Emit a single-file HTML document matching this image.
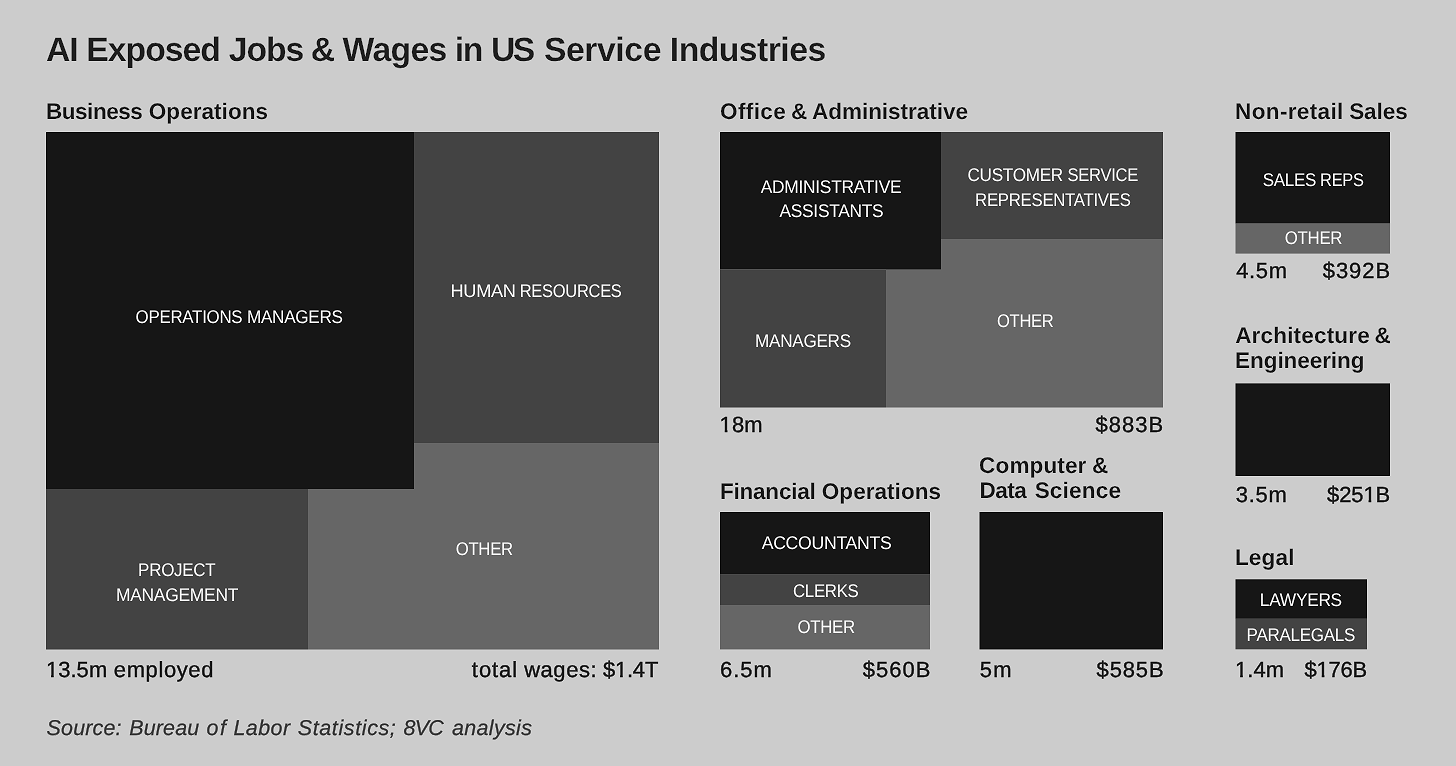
<!DOCTYPE html>
<html lang="en"><head><meta charset="utf-8"><title>AI Exposed Jobs &amp; Wages in US Service Industries</title>
<style>
html,body{margin:0;padding:0}
body{width:1456px;height:766px;background:#cccccc;overflow:hidden}
#c{position:absolute;left:0;top:0;width:1456px;height:766px;background:#cccccc;overflow:hidden;font-family:"Liberation Sans",sans-serif;text-rendering:geometricPrecision;filter:url(#sh)}
.r{position:absolute}
.t{position:absolute;white-space:pre;line-height:1;transform-origin:0 0}
.o{display:inline-block}
.title{font-size:33.745px;font-weight:700;-webkit-text-stroke:0.2px #cccccc;color:#1f1f1f}
.head{font-size:22.545px;font-weight:700;-webkit-text-stroke:0.15px #cccccc;color:#1a1a1a}
.label{font-size:18.327px;color:#f2f2f2}
.num{font-size:21.964px;-webkit-text-stroke:0.4px #1a1a1a;color:#1a1a1a}
.src{font-size:21.455px;font-style:italic;-webkit-text-stroke:0.25px #383838;color:#383838}
</style></head><body>
<svg width="0" height="0" style="position:absolute"><defs><filter id="sh" x="0" y="0" width="100%" height="100%" color-interpolation-filters="sRGB"><feConvolveMatrix order="3" kernelMatrix="0.01690 -0.16380 0.01690 -0.16380 1.58760 -0.16380 0.01690 -0.16380 0.01690" edgeMode="duplicate" preserveAlpha="true"/></filter></defs></svg>
<div id="c">
<svg class="r" width="1456" height="766" viewBox="0 0 1456 766" style="left:0;top:0">
<rect x="308" y="443" width="351.00" height="206.50" fill="#666666"/>
<rect x="886" y="239" width="277.00" height="168.50" fill="#666666"/>
<rect x="720" y="605" width="210.00" height="44.40" fill="#666666"/>
<rect x="1235.5" y="223.5" width="154.50" height="30.10" fill="#666666"/>
<rect x="414" y="132" width="245.00" height="311.00" fill="#434343"/>
<rect x="46" y="489" width="262.00" height="160.50" fill="#434343"/>
<rect x="941" y="132" width="222.00" height="107.00" fill="#434343"/>
<rect x="720" y="269.3" width="166.00" height="138.20" fill="#434343"/>
<rect x="720" y="574.6" width="210.00" height="30.40" fill="#434343"/>
<rect x="1235.5" y="618.8" width="131.50" height="30.50" fill="#434343"/>
<rect x="46" y="132" width="368.00" height="357.00" fill="#161616"/>
<rect x="720" y="132" width="221.00" height="137.30" fill="#161616"/>
<rect x="720" y="512" width="210.00" height="62.60" fill="#161616"/>
<rect x="979.5" y="512" width="183.50" height="137.40" fill="#161616"/>
<rect x="1235.5" y="132" width="154.50" height="91.50" fill="#161616"/>
<rect x="1235.5" y="383.4" width="154.50" height="92.60" fill="#161616"/>
<rect x="1235.5" y="579.3" width="131.50" height="39.50" fill="#161616"/>
</svg>
<span class="g"><span class="t title" style="left:46.00px;top:34px;letter-spacing:-1.050px">AI</span> <span class="t title" style="left:86.35px;top:34px;letter-spacing:-1.017px">Exposed</span> <span class="t title" style="left:228.85px;top:34px;letter-spacing:-1.133px">Jobs</span> <span class="t title" style="left:310.73px;top:34px;letter-spacing:0.000px">&amp;</span> <span class="t title" style="left:342.55px;top:34px;letter-spacing:-0.663px">Wages</span> <span class="t title" style="left:454.70px;top:34px;letter-spacing:-1.250px">in</span> <span class="t title" style="left:491.05px;top:34px;letter-spacing:-2.550px">US</span> <span class="t title" style="left:543.95px;top:34px;letter-spacing:-0.433px">Service</span> <span class="t title" style="left:669.85px;top:34px;letter-spacing:-0.544px">Industries</span></span>
<span class="g"><span class="t head" style="left:46.00px;top:101px;letter-spacing:-0.486px">Business</span> <span class="t head" style="left:148.80px;top:101px;letter-spacing:0.033px">Operations</span></span>
<span class="g"><span class="t head" style="left:720.10px;top:101px;letter-spacing:0.360px">Office</span> <span class="t head" style="left:790.90px;top:101px;letter-spacing:0.000px">&amp;</span> <span class="t head" style="left:811.95px;top:101px;letter-spacing:-0.031px">Administrative</span></span>
<span class="g"><span class="t head" style="left:1235.10px;top:101px;letter-spacing:0.333px">Non-retail</span> <span class="t head" style="left:1349.15px;top:101px;letter-spacing:-0.075px">Sales</span></span>
<span class="g"><span class="t head" style="left:719.90px;top:481px;letter-spacing:-0.212px">Financial</span> <span class="t head" style="left:821.80px;top:481px;letter-spacing:0.033px">Operations</span></span>
<span class="g"><span class="t head" style="left:979.10px;top:455px;letter-spacing:0.129px">Computer</span> <span class="t head" style="left:1091.95px;top:455px;letter-spacing:0.000px">&amp;</span></span>
<span class="g"><span class="t head" style="left:979.60px;top:480px;letter-spacing:-0.567px">Data</span> <span class="t head" style="left:1034.65px;top:480px;letter-spacing:0.200px">Science</span></span>
<span class="g"><span class="t head" style="left:1235.15px;top:325px;letter-spacing:0.173px">Architecture</span> <span class="t head" style="left:1374.40px;top:325px;letter-spacing:0.000px">&amp;</span></span>
<span class="t head" style="left:1235.10px;top:350px;letter-spacing:-0.080px">Engineering</span>
<span class="t head" style="left:1234.90px;top:547px;letter-spacing:0.162px">Legal</span>
<span class="g"><span class="t label" style="left:135px;padding-left:0.66px;top:308px;letter-spacing:-0.300px;transform:scaleX(0.9223)">OPERATIONS</span> <span class="t label" style="left:246px;padding-left:0.96px;top:308px;letter-spacing:-0.300px;transform:scaleX(0.9357)">MANAGERS</span></span>
<span class="g"><span class="t label" style="left:450px;padding-left:0.52px;top:282px;letter-spacing:-0.300px;transform:scaleX(0.9921)">HUMAN</span> <span class="t label" style="left:519px;padding-left:0.72px;top:282px;letter-spacing:-0.300px;transform:scaleX(0.8998)">RESOURCES</span></span>
<span class="t label" style="left:138px;padding-left:0.12px;top:561px;letter-spacing:-0.300px;transform:scaleX(0.9272)">PROJECT</span>
<span class="t label" style="left:115px;padding-left:1.02px;top:586px;letter-spacing:-0.300px;transform:scaleX(0.9523)">MANAGEMENT</span>
<span class="t label" style="left:455px;padding-left:0.78px;top:540px;letter-spacing:-0.300px;transform:scaleX(0.9127)">OTHER</span>
<span class="t label" style="left:760px;padding-left:0.84px;top:178px;letter-spacing:-0.300px;transform:scaleX(0.9485)">ADMINISTRATIVE</span>
<span class="t label" style="left:779px;padding-left:0.53px;top:202px;letter-spacing:-0.300px;transform:scaleX(0.9477)">ASSISTANTS</span>
<span class="g"><span class="t label" style="left:967px;padding-left:0.50px;top:166px;letter-spacing:-0.300px;transform:scaleX(0.9353)">CUSTOMER</span> <span class="t label" style="left:1067px;padding-left:0.55px;top:166px;letter-spacing:-0.300px;transform:scaleX(0.9033)">SERVICE</span></span>
<span class="t label" style="left:975px;padding-left:0.14px;top:191px;letter-spacing:-0.300px;transform:scaleX(0.9151)">REPRESENTATIVES</span>
<span class="t label" style="left:754px;padding-left:1.07px;top:332px;letter-spacing:-0.300px;transform:scaleX(0.9357)">MANAGERS</span>
<span class="t label" style="left:996px;padding-left:1.02px;top:312px;letter-spacing:-0.300px;transform:scaleX(0.9045)">OTHER</span>
<span class="t label" style="left:761px;padding-left:0.73px;top:534px;letter-spacing:-0.300px;transform:scaleX(0.9631)">ACCOUNTANTS</span>
<span class="t label" style="left:792px;padding-left:1.07px;top:582px;letter-spacing:-0.300px;transform:scaleX(0.9171)">CLERKS</span>
<span class="t label" style="left:797px;padding-left:0.45px;top:618px;letter-spacing:-0.300px;transform:scaleX(0.9176)">OTHER</span>
<span class="g"><span class="t label" style="left:1262px;padding-left:0.83px;top:171px;letter-spacing:-0.300px;transform:scaleX(0.9268)">SALES</span> <span class="t label" style="left:1320px;padding-left:0.06px;top:171px;letter-spacing:-0.300px;transform:scaleX(0.8968)">REPS</span></span>
<span class="t label" style="left:1284px;padding-left:0.77px;top:229px;letter-spacing:-0.300px;transform:scaleX(0.9192)">OTHER</span>
<span class="t label" style="left:1259px;padding-left:0.93px;top:591px;letter-spacing:-0.300px;transform:scaleX(0.9451)">LAWYERS</span>
<span class="t label" style="left:1246px;padding-left:0.65px;top:626px;letter-spacing:-0.300px;transform:scaleX(0.9281)">PARALEGALS</span>
<span class="g"><span class="t num" style="left:45.90px;top:659px;letter-spacing:0.063px"><span class="o" style="clip-path:polygon(-2px -4px,14.27px -4px,14.27px 15.91px,7.81px 15.91px,7.81px 25.96px,5.17px 25.96px,5.17px 15.91px,-2px 15.91px)">1</span>3.5m</span> <span class="t num" style="left:113.85px;top:659px;letter-spacing:0.621px">employed</span></span>
<span class="g"><span class="t num" style="left:471.85px;top:659px;letter-spacing:0.950px">total</span> <span class="t num" style="left:524.15px;top:659px;letter-spacing:0.580px">wages:</span> <span class="t num" style="left:602.90px;top:659px;letter-spacing:-0.188px">$<span class="o" style="clip-path:polygon(-2px -4px,14.21px -4px,14.21px 15.91px,7.81px 15.91px,7.81px 25.96px,5.17px 25.96px,5.17px 15.91px,-2px 15.91px)">1</span>.4T</span></span>
<span class="t num" style="left:719.60px;top:414px;letter-spacing:0.100px"><span class="o" style="clip-path:polygon(-2px -4px,14.31px -4px,14.31px 15.91px,7.81px 15.91px,7.81px 25.96px,5.17px 25.96px,5.17px 15.91px,-2px 15.91px)">1</span>8m</span>
<span class="t num" style="left:1095.50px;top:414px;letter-spacing:1.050px">$883B</span>
<span class="t num" style="left:720.10px;top:659px;letter-spacing:0.933px">6.5m</span>
<span class="t num" style="left:862.80px;top:659px;letter-spacing:1.025px">$560B</span>
<span class="t num" style="left:979.65px;top:659px;letter-spacing:1.500px">5m</span>
<span class="t num" style="left:1096.60px;top:659px;letter-spacing:0.875px">$585B</span>
<span class="t num" style="left:1236.25px;top:260px;letter-spacing:0.650px">4.5m</span>
<span class="t num" style="left:1322.70px;top:260px;letter-spacing:1.000px">$392B</span>
<span class="t num" style="left:1235.85px;top:484px;letter-spacing:0.717px">3.5m</span>
<span class="t num" style="left:1327.10px;top:484px;letter-spacing:-0.100px">$25<span class="o" style="clip-path:polygon(-2px -4px,14.21px -4px,14.21px 15.91px,7.81px 15.91px,7.81px 25.96px,5.17px 25.96px,5.17px 15.91px,-2px 15.91px)">1</span>B</span>
<span class="t num" style="left:1235.00px;top:659px;letter-spacing:0.067px"><span class="o" style="clip-path:polygon(-2px -4px,14.28px -4px,14.28px 15.91px,7.81px 15.91px,7.81px 25.96px,5.17px 25.96px,5.17px 15.91px,-2px 15.91px)">1</span>.4m</span>
<span class="t num" style="left:1304.60px;top:659px;letter-spacing:-0.225px">$<span class="o" style="clip-path:polygon(-2px -4px,14.21px -4px,14.21px 15.91px,7.81px 15.91px,7.81px 25.96px,5.17px 25.96px,5.17px 15.91px,-2px 15.91px)">1</span>76B</span>
<span class="g"><span class="t src" style="left:46.60px;top:718px;letter-spacing:0.158px">Source:</span> <span class="t src" style="left:129.20px;top:718px;letter-spacing:0.190px">Bureau</span> <span class="t src" style="left:206.60px;top:718px;letter-spacing:1.450px">of</span> <span class="t src" style="left:233.50px;top:718px;letter-spacing:0.438px">Labor</span> <span class="t src" style="left:297.70px;top:718px;letter-spacing:0.640px">Statistics;</span> <span class="t src" style="left:403.40px;top:718px;letter-spacing:-0.650px">8VC</span> <span class="t src" style="left:452.05px;top:718px;letter-spacing:0.343px">analysis</span></span>
</div>
</body></html>
